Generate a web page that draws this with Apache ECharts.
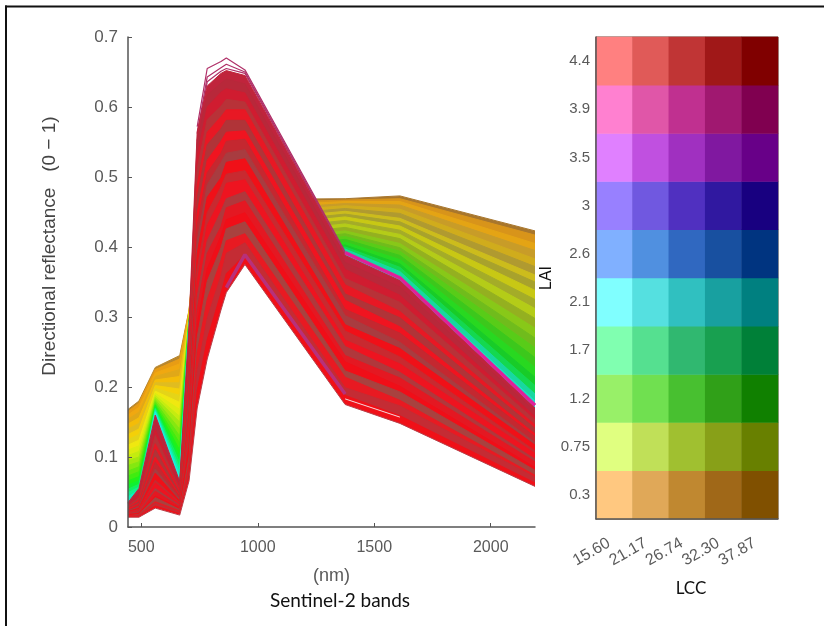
<!DOCTYPE html>
<html><head><meta charset="utf-8">
<style>html,body{margin:0;padding:0;background:#fff}#c{width:824px;height:626px}</style>
<script src="https://cdn.jsdelivr.net/npm/echarts@6/dist/echarts.min.js"></script>
</head><body><div id="c"></div>
<script>
var bands = [443,490,560,665,705,740,783,842,865,945,1375,1610,2190];
var xTicks = [500,1000,1500,2000];
var lcc = ['15.60','21.17','26.74','32.30','37.87'];
var lai = ['0.3','0.75','1.2','1.7','2.1','2.6','3','3.5','3.9','4.4'];

// Upper family of spectra, highest first
var canopyCurves = [
 [.168,.180,.228,.245,.310,.440,.465,.468,.469,.468,.469,.473,.423],
 [.165,.177,.225,.240,.309,.432,.460,.463,.464,.463,.467,.469,.417],
 [.160,.171,.220,.233,.308,.425,.455,.458,.459,.458,.465,.465,.405],
 [.154,.164,.215,.225,.307,.417,.450,.453,.454,.453,.462,.460,.395],
 [.147,.156,.210,.215,.306,.410,.445,.448,.449,.448,.459,.454,.383],
 [.140,.148,.206,.206,.305,.402,.440,.443,.444,.443,.455,.448,.372],
 [.132,.140,.202,.197,.304,.395,.435,.438,.439,.438,.451,.441,.360],
 [.125,.132,.198,.188,.303,.387,.430,.433,.434,.433,.447,.436,.350],
 [.117,.124,.194,.178,.302,.380,.425,.428,.429,.428,.443,.430,.338],
 [.110,.116,.191,.168,.301,.372,.420,.423,.424,.423,.438,.424,.325],
 [.102,.108,.188,.158,.300,.365,.415,.418,.419,.418,.433,.418,.312],
 [.095,.100,.185,.150,.299,.357,.410,.413,.414,.413,.428,.412,.298],
 [.088,.093,.182,.140,.298,.350,.405,.408,.409,.408,.423,.405,.284],
 [.080,.086,.179,.130,.297,.342,.400,.403,.404,.403,.419,.399,.270],
 [.073,.079,.176,.120,.296,.335,.395,.398,.399,.398,.415,.394,.256],
 [.066,.072,.174,.110,.295,.327,.387,.393,.394,.393,.411,.388,.242],
 [.060,.066,.172,.100,.295,.320,.380,.388,.389,.388,.407,.382,.228],
 [.054,.061,.170,.092,.294,.312,.372,.383,.384,.384,.403,.376,.214],
 [.049,.057,.168,.084,.294,.305,.365,.375,.376,.381,.400,.371,.202],
 [.043,.053,.166,.077,.293,.297,.357,.367,.368,.378,.397,.365,.190],
 [.037,.050,.164,.070,.292,.295,.350,.360,.361,.375,.393,.358,.180]
];
// Thin outer traces at the NIR peak
var peakTraces = [
 [null,null,null,null,null,.572,.655,.665,.670,.653,.393,null,null],
 [null,null,null,null,null,.562,.643,.656,.661,.650,.391,null,null],
 [null,null,null,null,null,.552,.636,.651,.655,.648,.389,null,null]
];
// Lower family of spectra, highest first
var denseCurves = [
 [.035,.055,.160,.065,.290,.565,.630,.648,.652,.645,.388,.352,.170],
 [.033,.050,.151,.062,.275,.552,.617,.634,.640,.633,.378,.343,.165],
 [.032,.046,.139,.059,.262,.531,.600,.621,.626,.620,.368,.331,.158],
 [.030,.042,.131,.054,.248,.512,.582,.601,.611,.607,.355,.321,.153],
 [.028,.039,.119,.052,.233,.489,.564,.586,.596,.596,.346,.308,.146],
 [.027,.036,.111,.048,.222,.471,.546,.569,.581,.581,.333,.299,.141],
 [.026,.033,.100,.045,.205,.449,.524,.551,.564,.566,.324,.286,.133],
 [.024,.031,.093,.043,.190,.431,.506,.534,.551,.554,.311,.277,.129],
 [.023,.029,.083,.040,.178,.409,.489,.521,.534,.539,.302,.264,.121],
 [.022,.027,.077,.037,.165,.391,.471,.499,.521,.526,.289,.255,.117],
 [.021,.025,.067,.035,.152,.369,.449,.486,.504,.509,.280,.243,.109],
 [.020,.023,.063,.033,.140,.351,.431,.469,.491,.496,.267,.233,.105],
 [.019,.022,.055,.031,.130,.329,.409,.451,.469,.479,.258,.221,.097],
 [.018,.020,.051,.029,.120,.311,.391,.429,.456,.466,.245,.213,.093],
 [.017,.019,.044,.027,.112,.289,.369,.416,.439,.449,.236,.201,.085],
 [.016,.018,.042,.025,.100,.271,.351,.399,.426,.436,.223,.193,.081],
 [.016,.017,.036,.023,.090,.249,.325,.381,.409,.419,.214,.181,.074],
 [.015,.016,.034,.021,.080,.222,.298,.359,.391,.406,.199,.173,.071],
 [.015,.015,.030,.019,.072,.195,.268,.334,.362,.389,.188,.159,.063],
 [.014,.014,.027,.017,.066,.170,.240,.310,.335,.375,.175,.148,.058]
];
// Visible edge traces
var swirEdge = [null,null,null,null,null,null,null,null,null,null,.392,.356,.174];
var nirEdge = [null,null,null,null,null,null,null,null,.342,.389,.190,null,null];
var paleEdge = [null,null,null,null,null,null,null,null,null,null,.183,.157,null];

// Colours
var canopyVisColors = ['#B8862C','#E89C14','#F0A810','#E0A818','#F4BC08','#E0BC20','#F4D008','#E4D418','#F0E810','#DCEC10','#C4EC10','#A4E810','#84E810','#60E810','#40EC10','#20F018','#10F030','#10F060','#10F090','#10F0C0','#20F0E0'];
var canopyColors = ['#A8762C','#D8941A','#E4A414','#C89C28','#D0AC1C','#B09A30','#CCBC1C','#A8A22C','#C8C814','#A4AC28','#B4CC18','#94B020','#88C818','#70BC1C','#58CC18','#3CC81C','#28D820','#18CC28','#14D850','#18D8A0','#20DCC8'];
var denseColors = ['#C0243C','#B8283A','#D01C30','#B83238','#E81824','#B03438','#F01420','#C42830','#A83C40','#F01018','#C82A30','#EE1420','#B0383C','#E41822','#F00E18','#A8423F','#E81A22','#C42C34','#F01018','#B83038'];
var cellColors = [
 ['#FFC880','#E0A858','#C08830','#A06818','#805000'],
 ['#E0FF80','#C0E058','#A0C030','#88A018','#688000'],
 ['#98F068','#70E050','#48C030','#30A018','#108000'],
 ['#80FFB0','#55E090','#30B870','#18A050','#008038'],
 ['#80FFFF','#55E0E0','#30C0C0','#18A0A0','#008080'],
 ['#80B0FF','#5090E0','#3068C0','#1850A0','#003480'],
 ['#9880FF','#7058E0','#5030C0','#3018A0','#180080'],
 ['#E080FF','#C050E0','#A030C0','#8018A0','#680088'],
 ['#FF80D0','#E056A8','#C03090','#A01870','#800050'],
 ['#FF8080','#E05A58','#C03535','#A01818','#800000']
];

function pairs(vals){ return vals.map(function(v,i){ return [bands[i],v]; }); }
var order = 1;
function curve(vals,color,width,fill){
  var s = {type:'line',xAxisIndex:0,yAxisIndex:0,data:pairs(vals),showSymbol:false,symbol:'none',
    smooth:false,silent:true,connectNulls:false,z:order++,lineStyle:{color:color,width:width}};
  if(fill){ s.areaStyle = {color:fill,opacity:1,origin:'start'}; }
  return s;
}
function sweep(a,b){
  return {type:'linear',x:0,y:0,x2:1,y2:0,colorStops:[{offset:0,color:a},{offset:0.2,color:a},{offset:0.5,color:b},{offset:1,color:b}]};
}
var series = [];
canopyCurves.forEach(function(c,i){
  var g = sweep(canopyVisColors[i],canopyColors[i]);
  series.push(curve(c,g,1,g));
});
peakTraces.forEach(function(c){ series.push(curve(c,'#B03068',1.2)); });
denseCurves.forEach(function(c,i){
  var last = i === denseCurves.length-1;
  series.push(curve(c,last?'#B8404A':denseColors[i],1,last?'#ffffff':denseColors[i]));
});
series.push(curve(swirEdge,'#E0209A',3.5));
series.push(curve(nirEdge,'#B8307A',3.5));
series.push(curve(paleEdge,'#F4D8DC',1));

var cells = [];
cellColors.forEach(function(row,y){ row.forEach(function(col,x){
  cells.push({value:[x,y,lai[y]],itemStyle:{color:col}});
});});
series.push({type:'heatmap',xAxisIndex:1,yAxisIndex:1,data:cells,silent:true,itemStyle:{borderWidth:0},progressive:0});

var sans = '"Liberation Sans",Arial,sans-serif';
var grey = '#5a5a5a';
var chart = echarts.init(document.getElementById('c'),null,{renderer:'canvas'});
chart.setOption({
  animation:false,
  backgroundColor:'#fff',
  tooltip:{show:false},
  title:{text:'Sentinel-2 bands',left:270,top:591,padding:0,textStyle:{fontFamily:'Lato',fontWeight:'normal',fontSize:19,color:'#111'}},
  graphic:[
    {type:'line',shape:{x1:5,y1:6.5,x2:824,y2:6.5},style:{stroke:'#111',lineWidth:2},silent:true},
    {type:'line',shape:{x1:6,y1:5.5,x2:6,y2:626},style:{stroke:'#111',lineWidth:2},silent:true},
    {type:'text',x:50,y:246,rotation:Math.PI/2,silent:true,
     style:{text:'Directional reflectance   (0 \u2212 1)',fontFamily:sans,fontSize:19,fill:'#444',align:'center',verticalAlign:'middle'}}
  ],
  grid:[
    {left:128,right:289,top:37,bottom:99},
    {left:596,right:46,top:37,bottom:107,show:true,borderColor:'#5a4a3a',borderWidth:1,backgroundColor:'transparent'}
  ],
  xAxis:[
    {type:'value',gridIndex:0,min:443,max:2190,z:200,
     name:'(nm)',nameLocation:'middle',nameGap:40,nameTextStyle:{fontFamily:sans,fontSize:18,color:grey},
     axisLine:{onZero:false,lineStyle:{color:'#555',width:1.5}},
     axisTick:{inside:true,length:4,customValues:xTicks,lineStyle:{color:'#555'}},
     axisLabel:{customValues:xTicks,fontFamily:sans,fontSize:16,color:grey,margin:13,formatter:function(v){return String(v);}},
     splitLine:{show:false}},
    {type:'category',gridIndex:1,data:lcc,z:200,
     name:'LCC',nameLocation:'middle',nameGap:61,nameTextStyle:{fontFamily:'Lato',fontSize:17,color:'#111',padding:[0,0,0,8]},
     axisLine:{lineStyle:{color:'#555',width:1.5}},
     axisTick:{inside:true,length:3,alignWithLabel:true,lineStyle:{color:'#444'}},
     axisLabel:{rotate:30,fontFamily:sans,fontSize:16,color:grey,margin:20,interval:0,padding:[0,6,0,0]},
     splitLine:{show:false},splitArea:{show:false}}
  ],
  yAxis:[
    {type:'value',gridIndex:0,min:0,max:0.7,interval:0.1,z:200,
     axisLine:{show:true,onZero:false,lineStyle:{color:'#555',width:1.5}},
     axisTick:{show:true,inside:true,length:4,lineStyle:{color:'#555'}},
     axisLabel:{fontFamily:sans,fontSize:17,color:grey,margin:10,formatter:function(v){return v===0?'0':String(+v.toFixed(1));}},
     splitLine:{show:false}},
    {type:'category',gridIndex:1,data:lai,z:200,
     name:'LAI',nameLocation:'middle',nameGap:35,nameRotate:90,
     nameTextStyle:{fontFamily:sans,fontSize:16,color:'#111',padding:[0,0,6,0]},
     axisLine:{lineStyle:{color:'#555',width:1.5}},
     axisTick:{inside:true,length:3,alignWithLabel:true,lineStyle:{color:'#444'}},
     axisLabel:{fontFamily:sans,fontSize:15,color:grey,margin:6,interval:0,padding:[6,0,0,0]},
     splitLine:{show:false},splitArea:{show:false}}
  ],
  series:series
});
</script></body></html>
